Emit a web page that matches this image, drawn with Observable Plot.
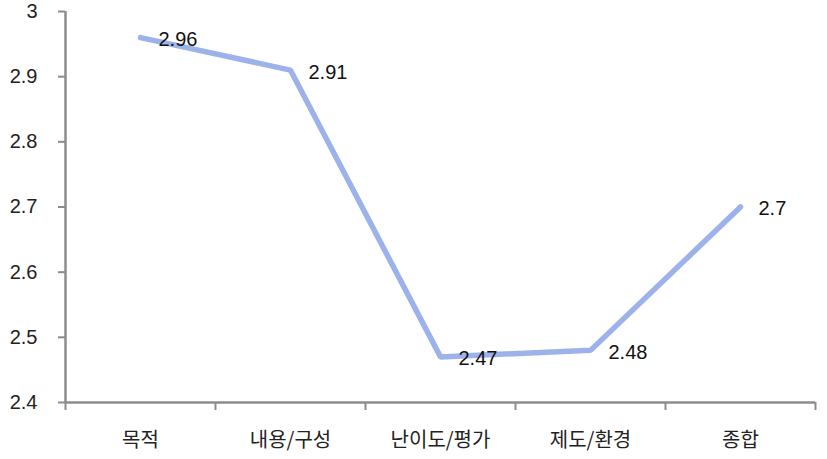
<!DOCTYPE html>
<html>
<head>
<meta charset="utf-8">
<script src="https://cdn.jsdelivr.net/npm/d3@7"></script>
<script src="https://cdn.jsdelivr.net/npm/@observablehq/plot@0.6"></script>
<style>
  html, body { margin: 0; padding: 0; background: #fff; }
  #chart svg { display: block; }
</style>
</head>
<body>
<div id="chart"></div>
<script>
const categories = ["목적", "내용/구성", "난이도/평가", "제도/환경", "종합"];
const values = [2.96, 2.91, 2.47, 2.48, 2.7];
const yTicks = [2.4, 2.5, 2.6, 2.7, 2.8, 2.9, 3.0];
const yTickLabels = ["2.4", "2.5", "2.6", "2.7", "2.8", "2.9", "3"];
const valueLabels = ["2.96", "2.91", "2.47", "2.48", "2.7"];

const data = categories.map((c, i) => ({pos: i + 0.5, cat: c, value: values[i], label: valueLabels[i]}));
const edges = d3.range(categories.length + 1);

const axisColor = "#8c8c8c";
const fontNum = "'Liberation Sans', Arial, sans-serif";
const fontKr = "'Noto Sans CJK KR', sans-serif";

const chart = Plot.plot({
  width: 827,
  height: 459,
  marginLeft: 65,
  marginRight: 12,
  marginTop: 11,
  marginBottom: 57,
  style: {background: "#fff", fontFamily: fontKr},
  x: {type: "linear", domain: [0, categories.length]},
  y: {domain: [2.4, 3.0]},
  marks: [
    Plot.axisY({ticks: yTicks, tickFormat: (d) => yTickLabels[yTicks.findIndex(t => Math.abs(t - d) < 1e-9)],
      tickSize: 7, stroke: axisColor, strokeWidth: 2, tickPadding: 21, fontSize: 20, fill: "#222",
      fontFamily: fontNum, label: null}),
    Plot.axisX({ticks: edges, tickFormat: () => "", tickSize: 8, stroke: axisColor, strokeWidth: 2, label: null}),
    Plot.axisX({ticks: data.map(d => d.pos), tickFormat: (d) => categories[Math.floor(d)],
      tickSize: 0, tickPadding: 30, fontSize: 20, fill: "#222", fontFamily: fontKr, label: null}),
    Plot.ruleX([0], {stroke: axisColor, strokeWidth: 2.5}),
    Plot.ruleY([2.4], {stroke: axisColor, strokeWidth: 2.5}),
    Plot.line(data, {x: "pos", y: "value", stroke: "#9db2ea", strokeWidth: 5.5, strokeLinejoin: "miter"}),
    Plot.text(data, {x: "pos", y: "value", text: "label", textAnchor: "start", dx: 18, dy: 2,
      fontSize: 20, fill: "#111", fontFamily: fontNum})
  ]
});
document.getElementById("chart").appendChild(chart);
</script>
</body>
</html>
